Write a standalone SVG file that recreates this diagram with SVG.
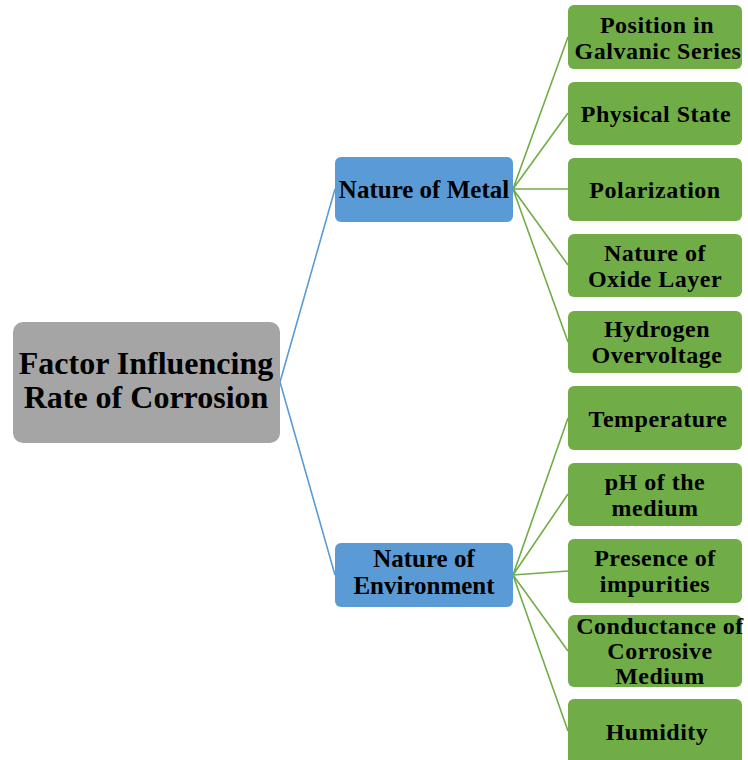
<svg xmlns="http://www.w3.org/2000/svg" width="748" height="760" viewBox="0 0 748 760">
<style>
text{font-family:"Liberation Serif","Times New Roman",serif;font-weight:bold;fill:#000;text-anchor:middle}
.root rect{fill:#a5a5a5}
.root text{font-size:32px}
.mid rect{fill:#5b9bd5}
.mid text{font-size:25px}
.leaf rect{fill:#70ad47}
.leaf text{font-size:24px;letter-spacing:0.5px}
.cb{stroke:#5b9bd5;stroke-width:1.6;fill:none}
.cg{stroke:#70ad47;stroke-width:1.6;fill:none}
</style>
<rect width="748" height="760" fill="#fff"/>
<g id="connectors">
<path class="cb" d="M280,382 L335,189 M280,382 L335,575"/>
<path class="cg" d="M513,189 L568,37 M513,189 L568,113 M513,189 L568,189 M513,189 L568,265 M513,189 L568,342"/>
<path class="cg" d="M513,575 L568,418 M513,575 L568,494 M513,575 L568,571 M513,575 L568,651 M513,575 L568,731"/>
</g>
<g id="root" class="root"><rect x="13" y="322" width="267" height="121" rx="10"/><text x="146" y="374">Factor Influencing</text><text x="146" y="408">Rate of Corrosion</text></g>
<g id="metal" class="mid"><rect x="335" y="157" width="178" height="65" rx="6"/><text x="424" y="198">Nature of Metal</text></g>
<g id="environment" class="mid"><rect x="335" y="543" width="178" height="64" rx="6"/><text x="424" y="567">Nature of</text><text x="424" y="594">Environment</text></g>
<g id="galvanic" class="leaf"><rect x="568" y="5" width="174" height="64" rx="6"/><text x="657" y="33">Position in</text><text x="658" y="59">Galvanic Series</text></g>
<g id="physical" class="leaf"><rect x="568" y="82" width="174" height="63" rx="6"/><text x="656" y="122">Physical State</text></g>
<g id="polarization" class="leaf"><rect x="568" y="158" width="174" height="63" rx="6"/><text x="655" y="198">Polarization</text></g>
<g id="oxide" class="leaf"><rect x="568" y="234" width="174" height="63" rx="6"/><text x="655" y="261">Nature of</text><text x="655" y="287">Oxide Layer</text></g>
<g id="hydrogen" class="leaf"><rect x="568" y="311" width="174" height="62" rx="6"/><text x="657" y="337">Hydrogen</text><text x="657" y="363">Overvoltage</text></g>
<g id="temperature" class="leaf"><rect x="568" y="386" width="174" height="64" rx="6"/><text x="658" y="427">Temperature</text></g>
<g id="ph" class="leaf"><rect x="568" y="463" width="174" height="63" rx="6"/><text x="655" y="490">pH of the</text><text x="655" y="516">medium</text></g>
<g id="impurities" class="leaf"><rect x="568" y="539" width="174" height="64" rx="6"/><text x="655" y="566">Presence of</text><text x="655" y="592">impurities</text></g>
<g id="conductance" class="leaf"><rect x="568" y="615" width="174" height="72" rx="6"/><text x="660" y="634">Conductance of</text><text x="660" y="659">Corrosive</text><text x="660" y="684">Medium</text></g>
<g id="humidity" class="leaf"><rect x="568" y="699" width="174" height="66" rx="6"/><text x="657" y="740">Humidity</text></g>
</svg>
